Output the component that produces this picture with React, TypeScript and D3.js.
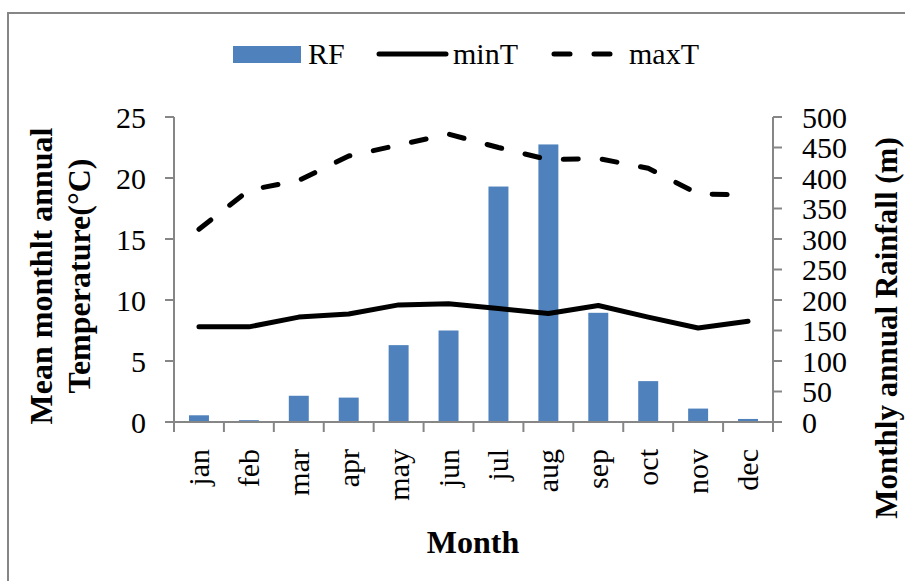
import React from "react";
import * as d3 from "d3";

const months = ["jan", "feb", "mar", "apr", "may", "jun", "jul", "aug", "sep", "oct", "nov", "dec"];
const rainfall = [11, 3, 43, 40, 126, 150, 386, 455, 179, 67, 22, 5];
const minT = [7.8, 7.8, 8.6, 8.85, 9.6, 9.7, 9.3, 8.9, 9.55, 8.6, 7.7, 8.25];
const maxT = [15.8, 19.0, 19.8, 21.8, 22.7, 23.6, 22.5, 21.5, 21.6, 20.8, 18.7, 18.6];
const leftTicks = [0, 5, 10, 15, 20, 25];
const rightTicks = [0, 50, 100, 150, 200, 250, 300, 350, 400, 450, 500];

const W = 905, H = 581;
const X0 = 174, X1 = 773, Y0 = 422, Y1 = 117;
const AXIS = "#868686";
const BAR = "#4F81BD";
const FONT = "'Liberation Serif', 'Times New Roman', serif";

export default function App() {
  const x = d3.scaleBand<string>().domain(months).range([X0, X1]).paddingInner(0.6).paddingOuter(0.3);
  const xb = d3.scaleBand<string>().domain(months).range([X0, X1]);
  const yL = d3.scaleLinear().domain([0, 25]).range([Y0, Y1]);
  const yR = d3.scaleLinear().domain([0, 500]).range([Y0, Y1]);
  const cx = (m: string) => (xb(m) as number) + xb.bandwidth() / 2;
  const line = d3.line<number>().x((_, i) => cx(months[i])).y((v) => yL(v));

  return (
    <svg width={W} height={H} style={{ position: "absolute", left: 0, top: 0, background: "#fff" }} fontFamily={FONT}>
      <rect x={8} y={13} width={W} height={H} fill="#fff" stroke={AXIS} strokeWidth={2} />
      {/* legend */}
      <rect x={233} y={46} width={68} height={17} fill={BAR} />
      <text x={308} y={64} fontSize={30}>RF</text>
      <line x1={379} x2={446} y1={54} y2={54} stroke="#000" strokeWidth={5} strokeLinecap="round" />
      <text x={453} y={64} fontSize={30}>minT</text>
      <line x1={554} x2={612} y1={54} y2={54} stroke="#000" strokeWidth={5} strokeLinecap="round" strokeDasharray="16 24" />
      <text x={629} y={64} fontSize={30}>maxT</text>

      {/* bars */}
      {months.map((m, i) => (
        <rect key={m} x={x(m)} y={yR(rainfall[i])} width={x.bandwidth()} height={Y0 - yR(rainfall[i])} fill={BAR} />
      ))}

      {/* lines */}
      <path d={line(minT) || ""} fill="none" stroke="#000" strokeWidth={5} strokeLinejoin="round" strokeLinecap="round" />
      <path d={line(maxT) || ""} fill="none" stroke="#000" strokeWidth={5} strokeLinejoin="round" strokeLinecap="round" strokeDasharray="15 24" />

      {/* axes */}
      <line x1={X0} x2={X0} y1={Y1} y2={Y0} stroke={AXIS} strokeWidth={2} />
      <line x1={X1} x2={X1} y1={Y1} y2={Y0} stroke={AXIS} strokeWidth={2} />
      <line x1={X0} x2={X1} y1={Y0} y2={Y0} stroke={AXIS} strokeWidth={2} />
      {leftTicks.map((t) => (
        <g key={"l" + t}>
          <line x1={X0 - 9} x2={X0} y1={yL(t)} y2={yL(t)} stroke={AXIS} strokeWidth={2} />
          <text x={146} y={yL(t)} dy="0.35em" textAnchor="end" fontSize={30}>{t}</text>
        </g>
      ))}
      {rightTicks.map((t) => (
        <g key={"r" + t}>
          <line x1={X1} x2={X1 + 9} y1={yR(t)} y2={yR(t)} stroke={AXIS} strokeWidth={2} />
          <text x={802} y={yR(t)} dy="0.35em" textAnchor="start" fontSize={30}>{t}</text>
        </g>
      ))}
      {months.map((m) => (
        <line key={"t" + m} x1={xb(m) as number} x2={xb(m) as number} y1={Y0} y2={Y0 + 10} stroke={AXIS} strokeWidth={2} />
      ))}
      <line x1={X1} x2={X1} y1={Y0} y2={Y0 + 10} stroke={AXIS} strokeWidth={2} />
      {months.map((m) => (
        <text key={"x" + m} transform={`translate(${cx(m) + 10},449) rotate(-90)`} textAnchor="end" fontSize={30}>{m}</text>
      ))}

      {/* titles */}
      <text transform="translate(52,276) rotate(-90)" textAnchor="middle" fontSize={32} fontWeight="bold">Mean monthlt annual</text>
      <text transform="translate(90,276) rotate(-90)" textAnchor="middle" fontSize={32} fontWeight="bold">Temperature(°C)</text>
      <text transform="translate(897,328) rotate(-90)" textAnchor="middle" fontSize={31} fontWeight="bold">Monthly annual Rainfall (m)</text>
      <text x={473} y={553} textAnchor="middle" fontSize={32} fontWeight="bold">Month</text>
    </svg>
  );
}
